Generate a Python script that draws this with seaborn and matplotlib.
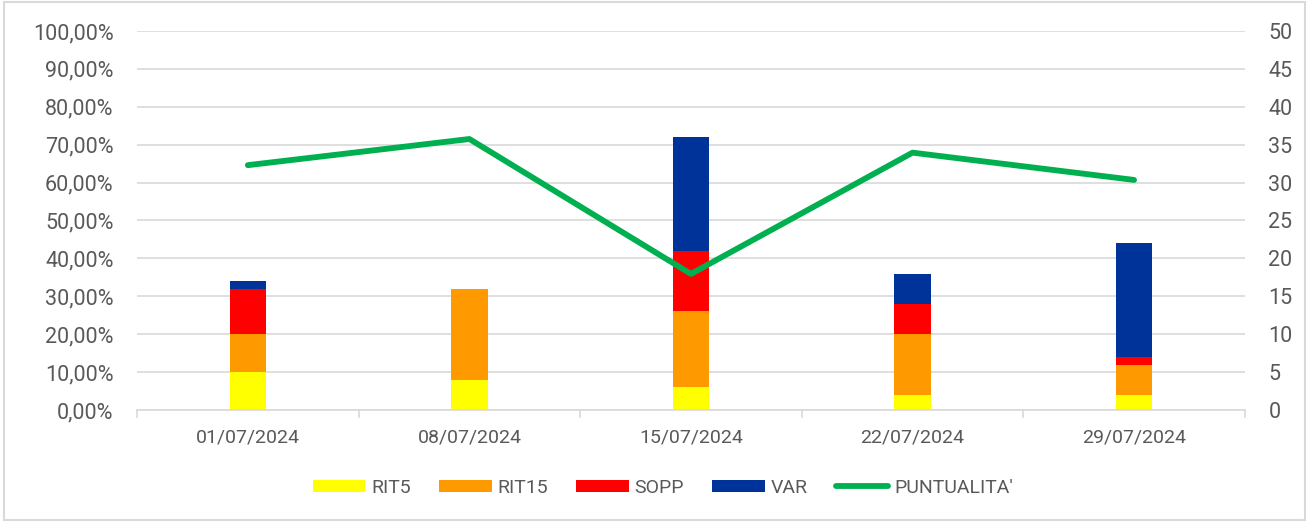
import numpy as np
import pandas as pd
import matplotlib
matplotlib.use("Agg")
import matplotlib.pyplot as plt
import seaborn as sns
from matplotlib.patches import Patch, Rectangle
from matplotlib.lines import Line2D
from matplotlib.ticker import FuncFormatter, MultipleLocator

# data
dates = ["01/07/2024", "08/07/2024", "15/07/2024", "22/07/2024", "29/07/2024"]
rit5 = [5, 4, 3, 2, 2]
rit15 = [5, 12, 10, 8, 4]
sopp = [6, 0, 8, 4, 1]
var = [1, 0, 15, 4, 15]
puntualita = [64.6, 71.5, 35.9, 67.9, 60.7]

series_names = ["RIT5", "RIT15", "SOPP", "VAR"]
series_colors = ["#FFFF00", "#FF9900", "#FF0000", "#003399"]
line_color = "#00B050"
text_color = "#595959"
grid_color = "#D9D9D9"

sns.set_theme(style="white")
plt.rcParams["font.family"] = ["Roboto", "DejaVu Sans"]

df = pd.DataFrame({"date": dates, "RIT5": rit5, "RIT15": rit15,
                   "SOPP": sopp, "VAR": var})
cum = df[series_names].cumsum(axis=1)

fig, ax = plt.subplots(figsize=(13.09, 5.22), dpi=100)
fig.subplots_adjust(left=0.1047, right=0.951, top=0.9406, bottom=0.2146)

# stacked bars: draw cumulative totals from the top series down
for name, color in reversed(list(zip(series_names, series_colors))):
    sns.barplot(x=df["date"], y=cum[name], color=color, width=0.165,
                saturation=1, linewidth=0, ax=ax, zorder=2)

ax.set_ylim(0, 50)
ax.yaxis.set_major_locator(MultipleLocator(5))
ax.set_xlim(-0.5, len(dates) - 0.5)

ax2 = ax.twinx()
sns.lineplot(x=np.arange(len(dates)), y=puntualita, color=line_color,
             linewidth=4.2, solid_capstyle="round", ax=ax2, zorder=3)
ax2.set_ylim(0, 100)
ax2.yaxis.set_major_locator(MultipleLocator(10))
ax2.yaxis.set_major_formatter(
    FuncFormatter(lambda v, p: f"{v:.2f}%".replace(".", ",")))

# bars' axis on the right, percent axis on the left
ax.yaxis.tick_right()
ax.yaxis.set_label_position("right")
ax2.yaxis.tick_left()
ax2.yaxis.set_label_position("left")

for a in (ax, ax2):
    for s in a.spines.values():
        s.set_visible(False)
    a.set_xlabel("")
    a.set_ylabel("")
    a.tick_params(axis="y", length=0, labelsize=15.5, colors=text_color, pad=17)

ax.yaxis.grid(True, color=grid_color, linewidth=1.2, zorder=0)
ax.set_axisbelow(True)
ax.spines["bottom"].set_visible(True)
ax.spines["bottom"].set_color(grid_color)
ax.spines["bottom"].set_linewidth(1.2)

ax.set_xticks(range(len(dates)))
ax.set_xticklabels(dates)
ax.set_xticks(np.arange(-0.5, len(dates)), minor=True)
ax.tick_params(axis="x", which="major", length=0, labelsize=14,
               colors=text_color, pad=13)
ax.tick_params(axis="x", which="minor", length=6, width=1.2,
               color=grid_color, bottom=True)

handles = [Patch(facecolor=c, edgecolor="none", label=n)
           for n, c in zip(series_names, series_colors)]
handles.append(Line2D([], [], color=line_color, linewidth=4.2,
                      solid_capstyle="round", label="PUNTUALITA'"))
fig.legend(handles=handles, loc="center", bbox_to_anchor=(663 / 1309, 1 - 488 / 522),
           ncol=5, frameon=False, fontsize=14, labelcolor=text_color,
           handlelength=2.7, handleheight=0.6, handletextpad=0.3,
           columnspacing=1.45)

fig.add_artist(Rectangle((0.003, 0.004), 0.994, 0.992, transform=fig.transFigure,
                         fill=False, edgecolor=grid_color, linewidth=1.5))

fig.savefig("out.png", dpi=100)
